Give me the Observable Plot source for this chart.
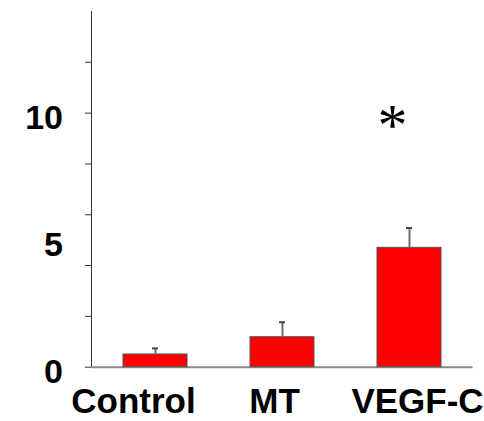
<!DOCTYPE html>
<html>
<head>
<meta charset="utf-8">
<script src="https://cdn.jsdelivr.net/npm/d3@7"></script>
<script src="https://cdn.jsdelivr.net/npm/@observablehq/plot@0.6"></script>
<style>
  body { margin: 0; background: white; }
</style>
</head>
<body>
<div id="chart"></div>
<script>
const categories = ["Control", "MT", "VEGF-C"];
const means = [0.5, 1.18, 4.70];
const errors = [0.24, 0.59, 0.78];
const yTicks = [0, 2, 4, 6, 8, 10, 12];
const yLabels = [0, 5, 10];
const sigCategory = "VEGF-C";
const sigValue = 9.95;
const sigMark = "*";

const labelShift = [-22, -8, 8];
const data = categories.map((c, i) => ({cat: c, mean: means[i], err: errors[i]}));
const font = "'Liberation Sans', Arial, Helvetica, sans-serif";

const chart = Plot.plot({
  width: 484,
  height: 421,
  marginLeft: 91,
  marginRight: 11.5,
  marginTop: 11,
  marginBottom: 54.3,
  style: {fontFamily: font, color: "#333", background: "white"},
  x: {domain: categories, paddingInner: 0.5, paddingOuter: 0.25, axis: null},
  y: {domain: [0, 14], ticks: yTicks, tickSize: 6, tickFormat: () => "", label: null, line: true},
  marks: [
    Plot.ruleY([0], {stroke: "#8a8a8a", strokeWidth: 2}),
    Plot.barY(data, {x: "cat", y: "mean", fill: "#ff0000", stroke: "#555", strokeWidth: 1}),
    Plot.ruleX(data, {x: "cat", y1: "mean", y2: d => d.mean + d.err, stroke: "#6e6e6e", strokeWidth: 2}),
    Plot.tickY(data, {x: "cat", y: d => d.mean + d.err, stroke: "#444", strokeWidth: 2, insetLeft: 29, insetRight: 29}),
    Plot.text(yLabels, {y: d => d, text: d => String(d), frameAnchor: "left", textAnchor: "end", dx: -28.5, dy: 5, lineAnchor: "middle", fontSize: 34, fontWeight: "bold", fill: "black"}),
    ...categories.map((c, i) => Plot.text([c], {x: d => d, text: d => d, frameAnchor: "bottom", lineAnchor: "bottom", dy: 46, dx: labelShift[i], fontSize: 35, fontWeight: "bold", fill: "black"})),
    Plot.text([sigMark], {x: () => sigCategory, y: () => sigValue, text: d => d, dx: -17, dy: 11, lineAnchor: "middle", fontSize: 60, fill: "black", fontFamily: "'Liberation Serif', serif"})
  ]
});
document.getElementById("chart").append(chart);
</script>
</body>
</html>
